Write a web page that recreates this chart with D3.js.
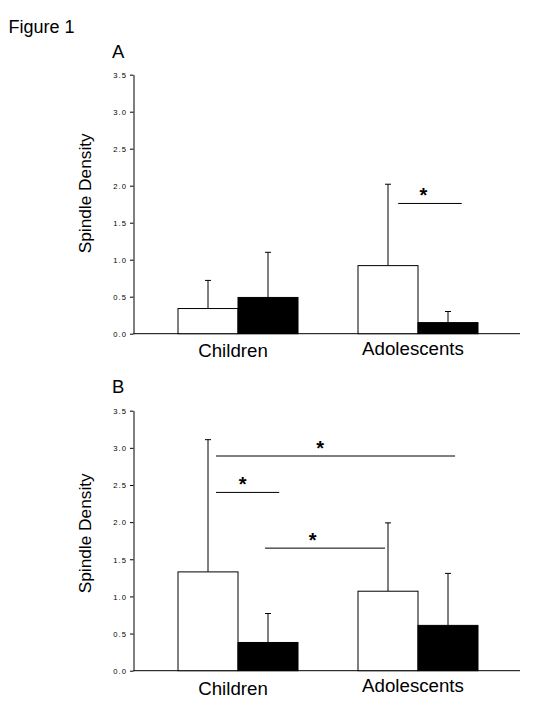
<!DOCTYPE html>
<html>
<head>
<meta charset="utf-8">
<script src="https://cdn.jsdelivr.net/npm/d3@7"></script>
<style>
  html, body { margin: 0; padding: 0; background: #fff; }
  svg { display: block; }
  text { font-family: "Liberation Sans", Arial, sans-serif; fill: #000; }
</style>
</head>
<body>
<svg id="chart" width="533" height="708"></svg>
<script>
// ---------- data ----------
const groups = ["Children", "Adolescents"];
const seriesKeys = ["open", "filled"];
const yTicks = [0, 0.5, 1.0, 1.5, 2.0, 2.5, 3.0, 3.5];

// Panel A: means and upper error (SD) per group [open, filled]
const meansA = [[0.34, 0.49], [0.92, 0.15]];
const errA   = [[0.38, 0.61], [1.10, 0.15]];
// Panel B
const meansB = [[1.33, 0.38], [1.07, 0.61]];
const errB   = [[1.78, 0.39], [0.92, 0.70]];

// significance annotations: x in group-index units (0 = Children centre, 1 = Adolescents centre), y in data units
const sigA = [{x1: 0.89, x2: 1.243, y: 1.76, sx: 1.03}];
const sigB = [
  {x1: -0.122, x2: 1.206, y: 2.89, sx: 0.456},
  {x1: -0.122, x2: 0.229, y: 2.40, sx: 0.026},
  {x1: 0.150, x2: 0.817, y: 1.65, sx: 0.415}
];

const svg = d3.select("#chart");

svg.append("text").attr("x", 8.5).attr("y", 33.3)
  .style("font-size", "18px").text("Figure 1");

const xBand = d3.scaleBand().domain(groups).range([148, 508])
  .paddingInner(1/3).paddingOuter(1/6);
const xSub = d3.scaleBand().domain(seriesKeys).range([0, xBand.bandwidth()]);
const xIdx = d3.scaleLinear().domain([0, 1])
  .range([xBand("Children") + xBand.bandwidth()/2, xBand("Adolescents") + xBand.bandwidth()/2]);

const axisX = 133.5, axisRight = 520;

function drawPanel(cfg) {
  const g = svg.append("g");
  const y = d3.scaleLinear().domain([0, 3.5]).range([cfg.y0, cfg.y1]);

  g.append("text").attr("x", 112).attr("y", cfg.letterY)
    .style("font-size", "18.5px").text(cfg.letter);

  const ax = g.append("g").attr("transform", `translate(${axisX},0)`)
    .call(d3.axisLeft(y).tickValues(yTicks).tickFormat(d3.format(".1f"))
      .tickSize(3.5).tickSizeOuter(0).tickPadding(3));
  ax.select(".domain").attr("stroke", "#000").attr("stroke-width", 1);
  ax.selectAll(".tick line").attr("stroke", "#000");
  ax.selectAll(".tick text")
    .attr("font-family", "Liberation Sans, Arial, sans-serif")
    .attr("dy", "0.36em")
    .style("font-size", "7.6px").style("letter-spacing", "1.1px");

  g.append("line").attr("x1", axisX).attr("x2", axisRight)
    .attr("y1", y(0)).attr("y2", y(0)).attr("stroke", "#000").attr("stroke-width", 1);

  g.append("text")
    .attr("transform", `translate(90.5,${cfg.ylabelY}) rotate(-90)`)
    .attr("text-anchor", "middle").style("font-size", "17.3px")
    .text("Spindle Density");

  groups.forEach((grp, gi) => {
    seriesKeys.forEach((s, si) => {
      const m = cfg.means[gi][si];
      const e = cfg.err[gi][si];
      const bx = xBand(grp) + xSub(s);
      const cx = bx + xSub.bandwidth() / 2;
      g.append("line").attr("x1", cx).attr("x2", cx)
        .attr("y1", y(m)).attr("y2", y(m + e)).attr("stroke", "#000").attr("stroke-width", 1);
      g.append("line").attr("x1", cx - 3).attr("x2", cx + 3)
        .attr("y1", y(m + e)).attr("y2", y(m + e)).attr("stroke", "#000").attr("stroke-width", 1);
      g.append("rect").attr("x", bx).attr("y", y(m))
        .attr("width", xSub.bandwidth()).attr("height", y(0) - y(m))
        .attr("fill", si === 0 ? "#fff" : "#000").attr("stroke", "#000").attr("stroke-width", 1);
    });
  });

  groups.forEach((grp, gi) => {
    g.append("text")
      .attr("x", xBand(grp) + xBand.bandwidth()/2 - 5)
      .attr("y", cfg.catY[gi])
      .attr("text-anchor", "middle").style("font-size", "18.7px").text(grp);
  });

  cfg.sig.forEach(s => {
    g.append("line").attr("x1", xIdx(s.x1)).attr("x2", xIdx(s.x2))
      .attr("y1", y(s.y)).attr("y2", y(s.y)).attr("stroke", "#000").attr("stroke-width", 1);
    g.append("text").attr("x", xIdx(s.sx)).attr("y", y(s.y) - 1)
      .attr("text-anchor", "middle").style("font-size", "20px").style("font-weight", "bold")
      .text("*");
  });
}

drawPanel({letter: "A", letterY: 58.3, y0: 333.7, y1: 74.7, ylabelY: 193.3,
  means: meansA, err: errA, sig: sigA, catY: [356.7, 355]});
drawPanel({letter: "B", letterY: 393.3, y0: 670.7, y1: 410.7, ylabelY: 533.3,
  means: meansB, err: errB, sig: sigB, catY: [695, 691.7]});
</script>
</body>
</html>
